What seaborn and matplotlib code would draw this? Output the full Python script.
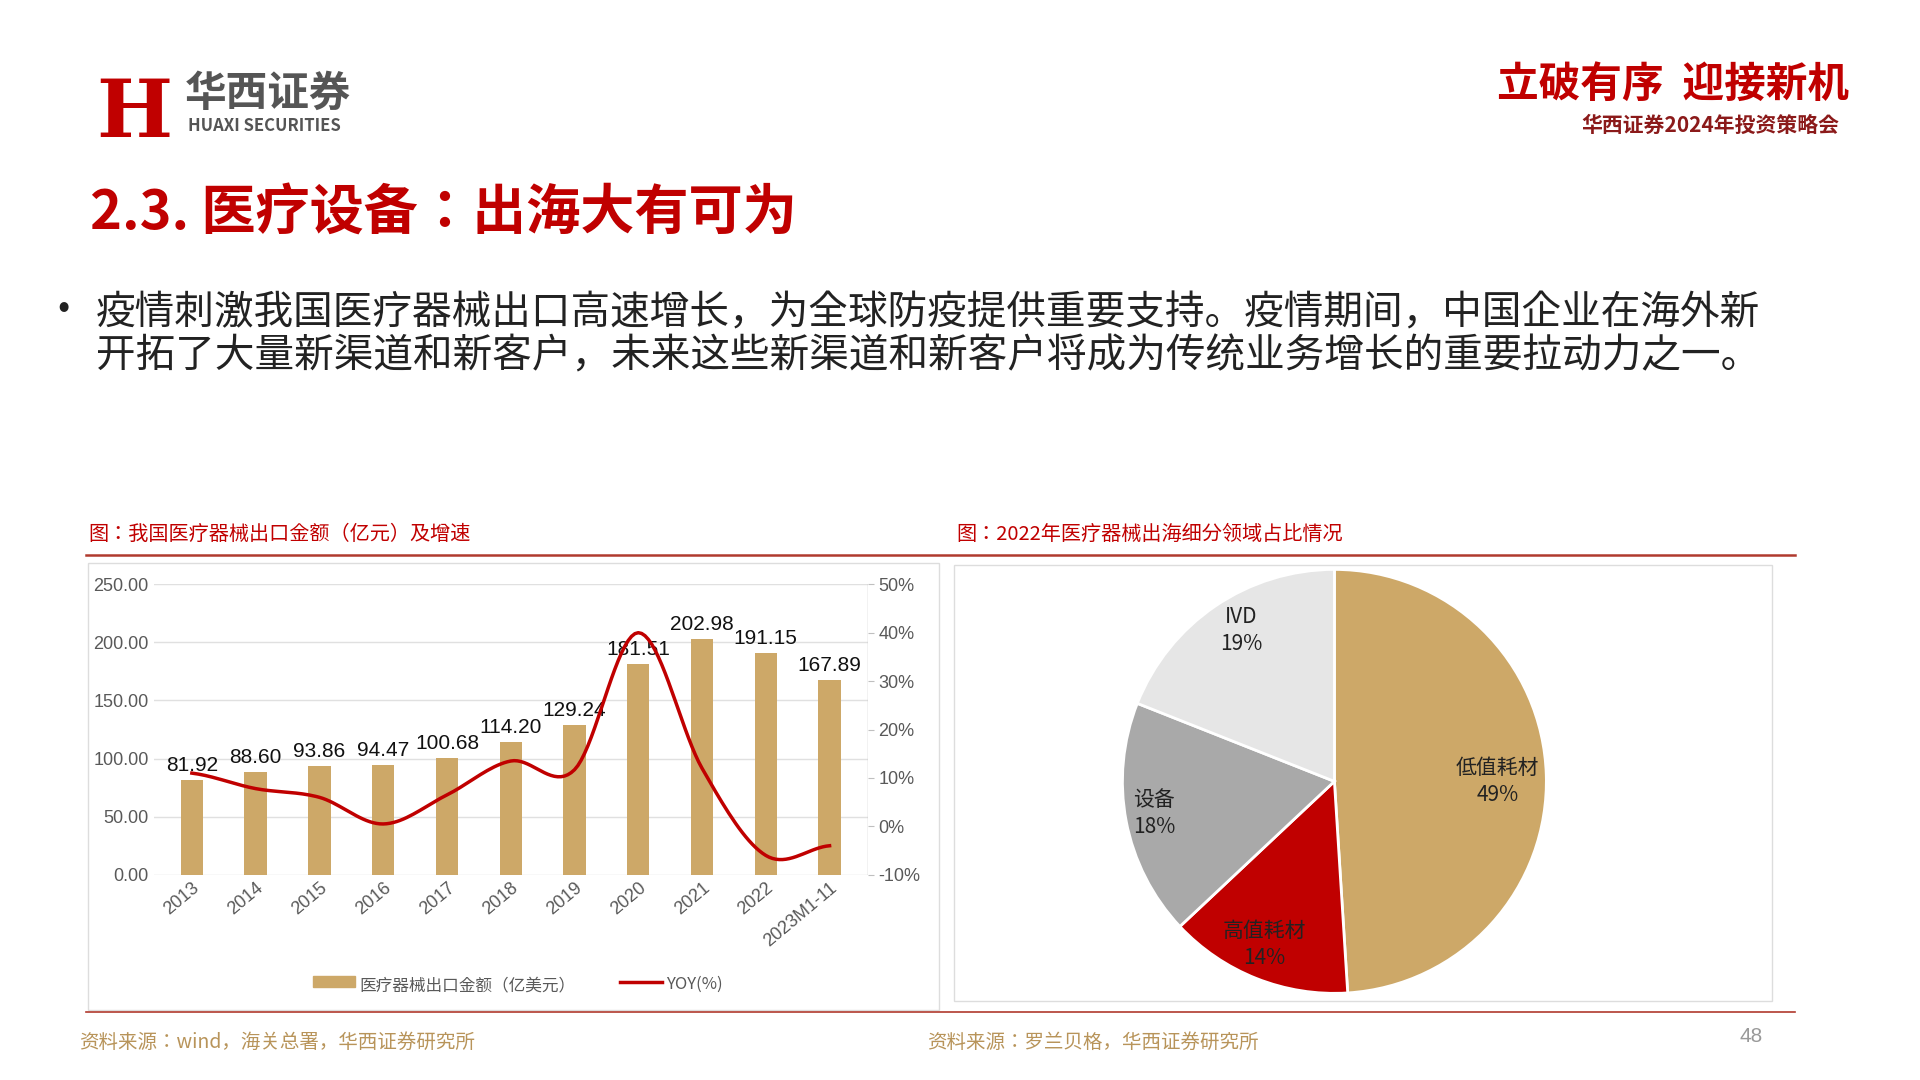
import numpy as np
import matplotlib.pyplot as plt
import seaborn as sns
from matplotlib.patches import Rectangle

plt.rcParams['font.family'] = ['Noto Sans CJK JP']

years = ['2013', '2014', '2015', '2016', '2017', '2018', '2019', '2020', '2021', '2022', '2023M1-11']
export = [81.92, 88.60, 93.86, 94.47, 100.68, 114.20, 129.24, 181.51, 202.98, 191.15, 167.89]
yoy = [11.0, 7.8, 6.0, 0.5, 6.5, 13.5, 11.7, 40.0, 12.0, -6.0, -4.0]

pie_labels = ['低值耗材', '高值耗材', '设备', 'IVD']
pie_share = [49, 14, 18, 19]
pie_colors = ['#CDA868', '#C00000', '#A9A9A9', '#E6E6E6']

RED = '#C00000'
GOLD = '#CDA868'
NUM = 'Liberation Sans'

fig = plt.figure(figsize=(19.2, 10.8), dpi=100)
fig.patch.set_facecolor('white')

# header
fig.text(0.050, 0.873, 'H', fontsize=58, color=RED, fontweight='bold', family='DejaVu Serif')
fig.text(0.096, 0.902, '华西证券', fontsize=30, color='#555555', fontweight='bold')
fig.text(0.098, 0.879, 'HUAXI SECURITIES', fontsize=12, color='#555555', fontweight='bold')
fig.text(0.963, 0.910, '立破有序  迎接新机', fontsize=30, color=RED, ha='right', fontweight='bold', style='italic')
fig.text(0.958, 0.878, '华西证券2024年投资策略会', fontsize=15, color='#8B1A1A', ha='right', fontweight='bold')
fig.text(0.047, 0.787, '2.3. 医疗设备：出海大有可为', fontsize=39, color=RED, fontweight='bold')
fig.text(0.030, 0.706, '•', fontsize=26, color='#222222')
fig.text(0.050, 0.660,
         '疫情刺激我国医疗器械出口高速增长，为全球防疫提供重要支持。疫情期间，中国企业在海外新\n'
         '开拓了大量新渠道和新客户，未来这些新渠道和新客户将成为传统业务增长的重要拉动力之一。',
         fontsize=28.5, color='#222222', linespacing=1.1)

# chart captions and rules
fig.text(0.046, 0.500, '图：我国医疗器械出口金额（亿元）及增速', fontsize=14.5, color=RED)
fig.text(0.498, 0.500, '图：2022年医疗器械出海细分领域占比情况', fontsize=14.5, color=RED)
fig.add_artist(plt.Line2D([0.045, 0.935], [0.486, 0.486], color='#B03A2E', lw=1.8))
fig.add_artist(plt.Line2D([0.045, 0.935], [0.063, 0.063], color='#B03A2E', lw=1.2))
fig.add_artist(Rectangle((0.046, 0.065), 0.443, 0.414, fill=False, ec='#DDDDDD', lw=1))
fig.add_artist(Rectangle((0.497, 0.073), 0.426, 0.404, fill=False, ec='#DDDDDD', lw=1))
fig.text(0.041, 0.030, '资料来源：wind，海关总署，华西证券研究所', fontsize=14, color='#B8945A')
fig.text(0.483, 0.030, '资料来源：罗兰贝格，华西证券研究所', fontsize=14, color='#B8945A')
fig.text(0.918, 0.035, '48', fontsize=15, color='#999999', ha='right', family=NUM)

# bar + line chart
ax = fig.add_axes([0.080, 0.190, 0.372, 0.269])
x = np.arange(len(years))
sns.barplot(x=years, y=export, color=GOLD, width=0.35, ax=ax, saturation=1, zorder=2)
ax.set_ylim(0, 250)
ax.set_yticks(np.arange(0, 251, 50))
ax.set_yticklabels([f'{v:.2f}' for v in np.arange(0, 251, 50)], fontsize=13, color='#595959',
                   family=NUM)
ax.set_xlim(-0.6, len(years) - 0.4)
ax.set_xticks(x)
ax.set_xticklabels(years, rotation=40, ha='right', rotation_mode='anchor', fontsize=13,
                   color='#595959', family=NUM)
ax.grid(axis='y', color='#E0E0E0', lw=1, zorder=0)
for s in ax.spines.values():
    s.set_visible(False)
ax.tick_params(length=0)
for xi, v in zip(x, export):
    ax.text(xi, v + 4, f'{v:.2f}', ha='center', va='bottom', fontsize=15, color='#111111',
            family=NUM)

ax2 = ax.twinx()
# smooth curve through the points (Catmull-Rom)
pts = np.array(yoy)
xs, ys = [], []
p = np.concatenate([[pts[0]], pts, [pts[-1]]])
for i in range(len(pts) - 1):
    t = np.linspace(0, 1, 20)
    p0, p1, p2, p3 = p[i], p[i + 1], p[i + 2], p[i + 3]
    yv = 0.5 * (2 * p1 + (-p0 + p2) * t + (2 * p0 - 5 * p1 + 4 * p2 - p3) * t ** 2
                + (-p0 + 3 * p1 - 3 * p2 + p3) * t ** 3)
    xs.extend(i + t)
    ys.extend(yv)
sns.lineplot(x=xs, y=ys, color=RED, lw=2.5, ax=ax2, sort=False)
ax2.set_ylim(-10, 50)
ax2.set_yticks(range(-10, 51, 10))
ax2.set_yticklabels([f'{v}%' for v in range(-10, 51, 10)], fontsize=13, color='#595959',
                    family=NUM)
for s in ax2.spines.values():
    s.set_visible(False)
ax2.axvline(len(years) - 0.4, color='#BFBFBF', lw=1)
ax2.tick_params(length=4, color='#BFBFBF')

# legend
fig.add_artist(Rectangle((0.163, 0.086), 0.022, 0.010, color=GOLD))
fig.text(0.187, 0.083, '医疗器械出口金额（亿美元）', fontsize=12, color='#595959')
fig.add_artist(plt.Line2D([0.323, 0.345], [0.091, 0.091], color=RED, lw=2.5))
fig.text(0.347, 0.084, 'YOY(%)', fontsize=12, color='#595959')

# pie
axp = fig.add_axes([0.5835, 0.078, 0.223, 0.397])
wedges, _ = axp.pie(pie_share, colors=pie_colors, startangle=90, counterclock=False,
                    wedgeprops=dict(ec='white', lw=2))
lab_pos = [(0.77, 0.0), (-0.33, -0.77), (-0.85, -0.15), (-0.44, 0.71)]
for (lx, ly), name, v in zip(lab_pos, pie_labels, pie_share):
    axp.text(lx, ly, f'{name}\n{v}%', ha='center', va='center', fontsize=15, color='#222222',
             linespacing=1.3)
axp.set_xlim(-1.01, 1.01)
axp.set_ylim(-1.01, 1.01)
axp.set_aspect('equal')

fig.savefig('out.png', dpi=100, facecolor='white')
